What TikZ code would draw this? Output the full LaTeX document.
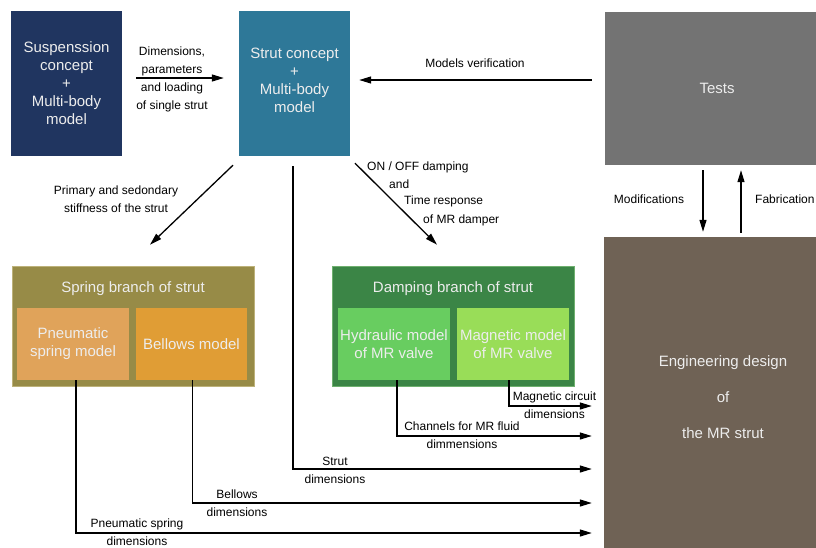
\documentclass[tikz,border=0pt]{standalone}
\usepackage{fontspec}
\setmainfont{Liberation Sans}
\usetikzlibrary{arrows.meta,positioning}

\definecolor{navy}{HTML}{203560}
\definecolor{teal}{HTML}{2E7898}
\definecolor{testgray}{HTML}{737373}
\definecolor{designbrown}{HTML}{6F6255}
\definecolor{olive}{HTML}{978B47}
\definecolor{olivelight}{HTML}{BDB27A}
\definecolor{pneuorange}{HTML}{E0A35A}
\definecolor{belloworange}{HTML}{E09D35}
\definecolor{darkgreen}{HTML}{3B8546}
\definecolor{greenlight}{HTML}{6FB06F}
\definecolor{hydrogreen}{HTML}{68CD60}
\definecolor{maggreen}{HTML}{99DD58}

\tikzstyle{block}=[text=white!93!black, align=center, inner sep=0pt,
font=\fontsize{15}{18}\selectfont]
\tikzstyle{concept}=[block, minimum width=111pt, minimum height=145pt]
\tikzstyle{branch}=[block, minimum width=242pt, minimum height=120pt, draw, line width=0.6pt]
\tikzstyle{model}=[block, minimum width=112pt, minimum height=72pt]
\tikzstyle{note}=[align=center, inner sep=0pt, font=\fontsize{12}{18}\selectfont]
\tikzstyle{flow}=[line width=1.3pt, -{Triangle[length=12pt,width=7pt]}]

\begin{document}
\begin{tikzpicture}[x=1pt,y=-1pt]
\useasboundingbox (0,0) rectangle (816,547);

\node (susp) at (66.5,83.5) [concept, fill=navy] {Suspenssion\\concept\\+\\Multi-body\\model};
\node (strut) at (294.5,83.5) [concept, fill=teal] {Strut concept\\+\\Multi-body\\model\\[-11pt]};
\node (tests) at (717,88.5) [block, fill=testgray, minimum width=224pt, minimum height=153pt] {Tests};
\node (eng) at (723,397) [block, fill=designbrown, minimum width=238pt, minimum height=320pt,
font=\fontsize{15}{36}\selectfont] {Engineering design\\of\\the MR strut};

\node (spring) at (133,326) [branch, fill=olive, draw=olivelight] {};
\node [block] at ([yshift=-22.5pt]spring.north) {Spring branch of strut};
\node (pneu) at (73,344) [model, fill=pneuorange] {Pneumatic\\spring model};
\node (bel) at (191.5,344) [model, fill=belloworange, minimum width=111pt] {Bellows model};

\node (damp) at (453,326) [branch, fill=darkgreen, draw=greenlight] {};
\node [block] at ([yshift=-22.5pt]damp.north) {Damping branch of strut};
\node (hyd) at (394,344) [model, fill=hydrogreen] {Hydraulic model\\of MR valve};
\node (mag) at (513,344) [model, fill=maggreen] {Magnetic model\\of MR valve};

% top row
\draw [flow] ([xshift=14pt,yshift=5.5pt]susp.east) -- ([xshift=-15pt,yshift=5.5pt]strut.west);
\node (dimpar) at (172,79) [note] {Dimensions,\\parameters\\and loading\\of single strut};
\draw [flow] ([xshift=-13pt,yshift=8.5pt]tests.west) -- ([xshift=9pt,yshift=3.5pt]strut.east);
\node (verif) at (475,63) [note] {Models verification};

% tests <-> design
\draw [flow] ([xshift=-14pt,yshift=-5pt]tests.south) -- ([xshift=-20pt,yshift=5pt]eng.north);
\draw [flow] ([xshift=18pt,yshift=4pt]eng.north) -- ([xshift=24pt,yshift=-5pt]tests.south);
\node (modif) at (649,199) [note] {Modifications};
\node (fabr) at (755,199) [note, anchor=west] {Fabrication};

% strut to branches
\draw [flow] ([xshift=-61.5pt,yshift=-9pt]strut.south) -- ([xshift=17pt,yshift=21pt]spring.north);
\node (stiff) at (116,199) [note] {Primary and sedondary\\stiffness of the strut};
\draw [flow] ([xshift=60.5pt,yshift=-7pt]strut.south) -- ([xshift=-16pt,yshift=21pt]damp.north);
\node (onoff) at (367,167) [note, anchor=west] {ON / OFF damping};
\node (onand) at (389,184) [note, anchor=west] {and};
\node (tresp) at (404,201) [note, anchor=west] {Time response};
\node (mrdamp) at (423,220) [note, anchor=west] {of MR damper};

% dimensions to design
\draw [flow] ([xshift=-4pt]mag.south) |- ([xshift=-12pt,yshift=-9pt]eng.west);
\node (magdim) at (554.5,405.5) [note] {Magnetic circuit\\dimensions};
\draw [flow] ([xshift=3pt]hyd.south) |- ([xshift=-12pt,yshift=-39pt]eng.west);
\node (hyddim) at (462,435) [note] {Channels for MR fluid\\dimmensions};
\draw [flow] ([xshift=-1.5pt,yshift=-10pt]strut.south) |- ([xshift=-12pt,yshift=-72pt]eng.west);
\node (strutdim) at (335,470) [note] {Strut\\dimensions};
\draw [flow] ([xshift=1pt]bel.south) |- ([xshift=-12pt,yshift=-106pt]eng.west);
\node (beldim) at (237,503.5) [note] {Bellows\\dimensions};
\draw [flow] ([xshift=3pt]pneu.south) |- ([xshift=-12pt,yshift=-136pt]eng.west);
\node (pneudim) at (137,532) [note] {Pneumatic spring\\dimensions};

\end{tikzpicture}
\end{document}
